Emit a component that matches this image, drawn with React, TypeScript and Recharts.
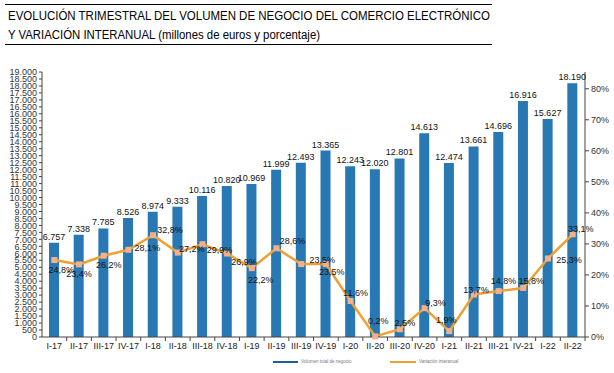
import { Bar, ComposedChart, LabelList, Legend, Line, XAxis, YAxis } from 'recharts';

const quarters = [
  'I-17', 'II-17', 'III-17', 'IV-17', 'I-18', 'II-18', 'III-18', 'IV-18', 'I-19', 'II-19', 'III-19',
  'IV-19', 'I-20', 'II-20', 'III-20', 'IV-20', 'I-21', 'II-21', 'III-21', 'IV-21', 'I-22', 'II-22',
];
const volume = [
  6757, 7338, 7785, 8526, 8974, 9333, 10116, 10820, 10969, 11999, 12493,
  13365, 12243, 12020, 12801, 14613, 12474, 13661, 14696, 16916, 15627, 18190,
];
const variation = [
  24.8, 23.4, 26.2, 28.1, 32.8, 27.2, 29.9, 26.9, 22.2, 28.6, 23.5,
  23.5, 11.6, 0.2, 2.5, 9.3, 1.9, 13.7, 14.8, 15.8, 25.3, 33.1,
];
const leftTicks = [
  0, 500, 1000, 1500, 2000, 2500, 3000, 3500, 4000, 4500, 5000, 5500, 6000, 6500, 7000, 7500, 8000,
  8500, 9000, 9500, 10000, 10500, 11000, 11500, 12000, 12500, 13000, 13500, 14000, 14500, 15000,
  15500, 16000, 16500, 17000, 17500, 18000, 18500, 19000,
];
const rightTicks = [0, 10, 20, 30, 40, 50, 60, 70, 80];

// nudges for the % labels so they sit where the original puts them
const pctNudge = [
  [7, 10], [0, 10], [5, 9], [19, -2], [17, -5], [14, -4], [17, 6], [17, 8], [9, 12], [16, -7], [21, -4],
  [6, 8], [5, -8], [3, -15], [5, -6], [11, -5], [-3, -11], [2, -4], [5, -10], [8, -7], [21, 2], [8, -5],
];

const data = quarters.map((q, i) => ({ quarter: q, volume: volume[i], variation: variation[i] }));

const FONT = '"Liberation Sans", Arial, sans-serif';
const BLUE = '#2878b4';
const ORANGE = '#f0a030';
const BAND = 543 / 22;

const thousands = (v: number) => String(v).replace(/\B(?=(\d{3})+(?!\d))/g, '.');

function QuarterTick(props: any) {
  const { x, y, payload } = props;
  return (
    <g>
      <line x1={x + BAND / 2} x2={x + BAND / 2} y1={y - 6} y2={y - 2} stroke="#444" />
      <text x={x} y={y + 6} textAnchor="middle" fontSize={9} fontFamily={FONT} fill="#222">
        {payload.value}
      </text>
    </g>
  );
}

function PctLabel(props: any) {
  const { x, y, index, value } = props;
  const [dx, dy] = pctNudge[index] ?? [0, 0];
  return (
    <text x={x + dx} y={y + dy} textAnchor="middle" dominantBaseline="central" fontSize={9} fontFamily={FONT} fill="#111">
      {String(value).replace('.', ',')}%
    </text>
  );
}

function SquareDot(props: any) {
  const { cx, cy, index } = props;
  return <rect key={`dot-${index}`} x={cx - 3} y={cy - 3} width={6} height={6} fill="#f4b08a" />;
}

function LegendRow() {
  const txt = { position: 'absolute' as const, top: 2, fontSize: 4.5, color: '#777', fontFamily: FONT, lineHeight: '6px' };
  return (
    <div style={{ position: 'relative', width: 614, height: 10 }}>
      <div style={{ position: 'absolute', left: 273, top: 4, width: 25, height: 2, background: '#1f5f93' }} />
      <span style={{ ...txt, left: 301 }}>Volumen total de negocio</span>
      <div style={{ position: 'absolute', left: 390, top: 4, width: 26, height: 1.5, background: ORANGE }} />
      <span style={{ ...txt, left: 419 }}>Variación interanual</span>
    </div>
  );
}

export default function App() {
  return (
    <div style={{ position: 'absolute', left: 0, top: 0, width: 614, height: 373, background: '#fff' }}>
      <svg width={614} height={50} style={{ position: 'absolute', left: 0, top: 0 }}>
        <line x1={5} x2={492} y1={4.5} y2={4.5} stroke="#000" />
        <text x={8} y={20} fontSize={12.5} fontFamily={FONT} fill="#000" textLength={482} lengthAdjust="spacingAndGlyphs">
          EVOLUCIÓN TRIMESTRAL DEL VOLUMEN DE NEGOCIO DEL COMERCIO ELECTRÓNICO
        </text>
        <text x={8} y={38.5} fontSize={12.5} fontFamily={FONT} fill="#000" textLength={312} lengthAdjust="spacingAndGlyphs">
          Y VARIACIÓN INTERANUAL (millones de euros y porcentaje)
        </text>
        <line x1={5} x2={492} y1={44.5} y2={44.5} stroke="#000" />
      </svg>
      <div style={{ position: 'absolute', left: 0, top: 0 }}>
        <ComposedChart
          width={614}
          height={373}
          data={data}
          margin={{ top: 72, right: 0, bottom: 2, left: 0 }}
          style={{ fontFamily: FONT }}
        >
          <XAxis
            dataKey="quarter"
            height={24}
            tickSize={0}
            tickMargin={6}
            interval={0}
            stroke="#444"
            tick={<QuarterTick />}
          />
          <YAxis
            yAxisId="left"
            width={42}
            domain={[0, 19000]}
            ticks={leftTicks}
            interval={0}
            tickSize={3}
            tickMargin={2}
            stroke="#444"
            tick={{ fontSize: 9, fill: '#333', fontFamily: FONT }}
            tickFormatter={thousands}
          />
          <YAxis
            yAxisId="right"
            orientation="right"
            width={29}
            domain={[0, 85.4]}
            ticks={rightTicks}
            interval={0}
            tickSize={4}
            tickMargin={2}
            stroke="#444"
            tick={{ fontSize: 9, fill: '#333', fontFamily: FONT }}
            tickFormatter={(v: number) => `${v}%`}
          />
          <Legend verticalAlign="bottom" content={<LegendRow />} wrapperStyle={{ top: 357, bottom: 'auto', left: 0, width: 614 }} />
          <Bar yAxisId="left" dataKey="volume" name="Volumen total de negocio" fill={BLUE} barSize={10} isAnimationActive={false}>
            <LabelList dataKey="volume" position="top" offset={3} formatter={(v: any) => thousands(Number(v))} fontSize={9} fill="#111" fontFamily={FONT} />
          </Bar>
          <Line
            yAxisId="right"
            type="linear"
            dataKey="variation"
            name="Variación interanual"
            stroke={ORANGE}
            strokeWidth={2.5}
            dot={SquareDot}
            activeDot={false}
            isAnimationActive={false}
          >
            <LabelList dataKey="variation" content={<PctLabel />} />
          </Line>
        </ComposedChart>
      </div>
    </div>
  );
}
